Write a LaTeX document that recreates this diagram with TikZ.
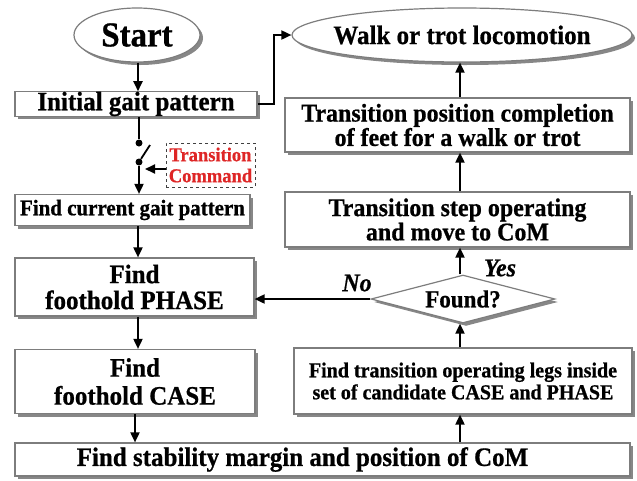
\documentclass[tikz,border=0pt]{standalone}
\usepackage{fontspec}
\setmainfont[FakeStretch=0.94, BoldFeatures={FakeBold=0.7}, BoldItalicFeatures={FakeBold=0.7}]{Liberation Serif}
\usetikzlibrary{arrows.meta,shapes.geometric,shadows,calc}
\definecolor{bord}{RGB}{125,125,125}
\definecolor{shad}{RGB}{135,135,135}
\definecolor{cmdred}{RGB}{222,38,38}
\begin{document}
\begin{tikzpicture}[x=1pt,y=-1pt,
  box/.style={draw=bord, line width=1.2pt, fill=white, inner sep=0pt, align=center,
    font=\bfseries\fontsize{26.6}{26}\selectfont,
    drop shadow={shadow xshift=3pt, shadow yshift=-3pt, fill=shad, opacity=1}},
  oval/.style={box, ellipse},
  decision/.style={box, diamond, aspect=3.8},
  cmdbox/.style={draw=black!75, dashed, line width=0.8pt, inner sep=0pt, align=center,
    text=cmdred, font=\bfseries\fontsize{19.7}{21}\selectfont},
  lbl/.style={font=\bfseries\itshape\fontsize{25.5}{26}\selectfont, inner sep=0pt},
  arr/.style={line width=1.8pt, -{Triangle[length=10pt,width=9pt]}},
  ln/.style={line width=1.8pt},
  dot/.style={circle, fill=black, inner sep=0pt, minimum size=7pt}
]
\useasboundingbox (0,0) rectangle (637,480);

% left column
\node[oval, minimum width=126, minimum height=54, font=\bfseries\fontsize{35}{34}\selectfont] (start) at (137,35) {Start};
\node[box, minimum width=242, minimum height=24] (init) at (136,104) {Initial gait pattern};
\node[box, minimum width=235, minimum height=31, font=\bfseries\fontsize{22.3}{22}\selectfont] (current) at (132.5,210) {Find current gait pattern};
\node[box, minimum width=239, minimum height=58, font=\bfseries\fontsize{26.6}{26}\selectfont] (phase) at (134.5,287) {Find\\foothold PHASE};
\node[box, minimum width=240, minimum height=64, font=\bfseries\fontsize{26.6}{28}\selectfont] (case) at (135,381.5) {Find\\foothold CASE};
\node[box, minimum width=615, minimum height=33] (stab) at (322.5,459.5) {Find stability margin and position of CoM\hspace*{40pt}};

% switch and command
\coordinate (col) at (138,0);
\node[dot] (sw1) at (139,143) {};
\node[dot] (sw2) at (139,162) {};
\coordinate (blade) at (150,145);
\coordinate (cmdtip) at (145,169);
\node[cmdbox, minimum width=89, minimum height=44] (cmd) at (210.5,165) {Transition\\Command};

% right column
\node[oval, inner xsep=-45pt, minimum width=340, minimum height=54] (walk) at (462,35) {Walk or trot locomotion};
\node[box, minimum width=345, minimum height=54, font=\bfseries\fontsize{25.5}{23}\selectfont] (tpos) at (457.5,125) {Transition position completion\\of feet for a walk or trot};
\node[box, minimum width=345, minimum height=55, font=\bfseries\fontsize{25.5}{23}\selectfont] (tstep) at (457.5,219.5) {Transition step operating\\and move to CoM};
\node[decision, minimum width=184, minimum height=48, font=\bfseries\fontsize{24.5}{24}\selectfont] (found) at (463,299) {Found?};
\node[box, minimum width=338, minimum height=66, font=\bfseries\fontsize{21.3}{22}\selectfont] (legs) at (463,381) {Find transition operating legs inside\\set of candidate CASE and PHASE};
\coordinate (rcol) at (460,0);

\node[lbl] (nolbl) at (357,283) {No};
\node[lbl] (yeslbl) at (500,268) {Yes};

% left connectors
\draw[arr] (start.south -| col) -- (init.north -| col);
\draw[ln] (init.south -| sw1) -- (sw1);
\draw[ln] (sw2) -- (blade);
\draw[arr] (sw2) -- (current.north -| sw2);
\draw[arr] (cmd.west |- cmdtip) -- (cmdtip);
\draw[arr] (current.south -| col) -- (phase.north -| col);
\draw[arr] (phase.south -| col) -- (case.north -| col);
\draw[arr] ($(case.south -| col)+(-3,0)$) -- ($(stab.north -| col)+(-3,0)$);

% right connectors
\draw[arr] (stab.north -| rcol) -- (legs.south -| rcol);
\draw[arr] (legs.north -| rcol) -- (found.south -| rcol);
\draw[arr] (found.north -| rcol) -- (tstep.south -| rcol);
\draw[arr] (tstep.north -| rcol) -- (tpos.south -| rcol);
\draw[arr] (tpos.north -| rcol) -- (walk.south -| rcol);
\draw[arr] (found.west) -- (found.west -| phase.east);
\draw[arr] (init.east) -- ++(16,0) |- (walk.west);
\end{tikzpicture}
\end{document}
